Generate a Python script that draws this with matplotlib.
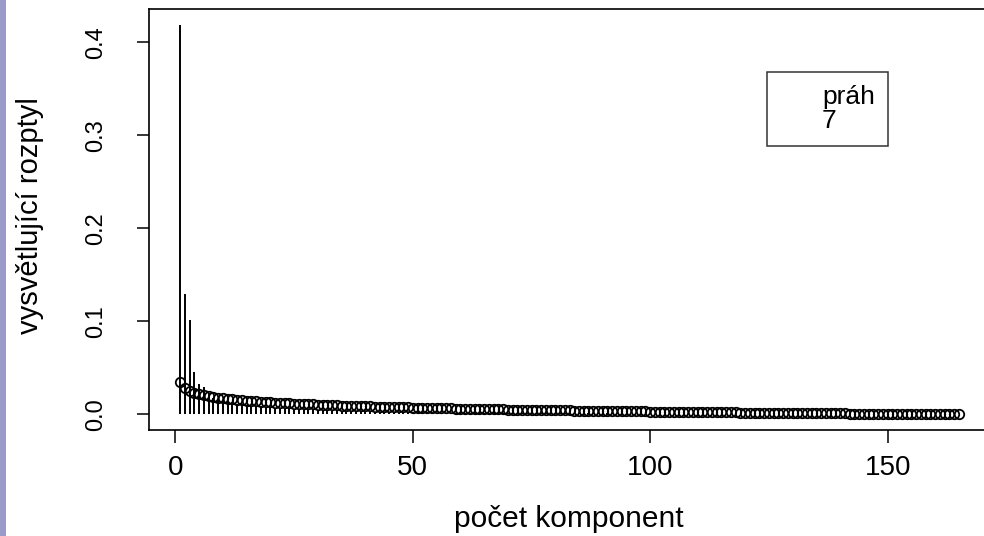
import numpy as np
import matplotlib
matplotlib.use("Agg")
import matplotlib.pyplot as plt
from matplotlib.lines import Line2D
from matplotlib.patches import Rectangle

plt.rcParams['font.family'] = ['Liberation Sans', 'DejaVu Sans']

# explained variance of each component (vertical lines)
variance = [
    0.419, 0.129, 0.101, 0.046, 0.033, 0.029, 0.023, 0.018, 0.016, 0.015,
    0.0135, 0.0125, 0.0115, 0.011, 0.010, 0.0095, 0.009, 0.0085, 0.008, 0.0075,
    0.007, 0.0065, 0.006, 0.0058, 0.0055, 0.0052, 0.005, 0.0048, 0.0046, 0.0044,
    0.0042, 0.004, 0.0038, 0.0036, 0.0035, 0.0034, 0.0033, 0.0032, 0.0031, 0.003,
    0.0029, 0.0028, 0.0028, 0.0027, 0.0026, 0.0026, 0.0025, 0.0024, 0.0024, 0.0023,
    0.0022, 0.0022, 0.0021, 0.0021, 0.0020, 0.0020, 0.0019, 0.0019, 0.0018, 0.0018,
    0.0017, 0.0017, 0.0017, 0.0016, 0.0016, 0.0016, 0.0015, 0.0015, 0.0015, 0.0014,
    0.0014, 0.0014, 0.0013, 0.0013, 0.0013, 0.0013, 0.0012, 0.0012, 0.0012, 0.0012,
    0.0011, 0.0011, 0.0011, 0.0011, 0.0011, 0.0010, 0.0010, 0.0010, 0.0010, 0.0010,
    0.0010, 0.0010, 0.0010, 0.0009, 0.0009, 0.0009, 0.0009, 0.0009, 0.0009, 0.0009,
    0.0009, 0.0009, 0.0008, 0.0008, 0.0008, 0.0008, 0.0008, 0.0008, 0.0008, 0.0008,
    0.0008, 0.0008, 0.0007, 0.0007, 0.0007, 0.0007, 0.0007, 0.0007, 0.0007, 0.0007,
    0.0007, 0.0007, 0.0006, 0.0006, 0.0006, 0.0006, 0.0006, 0.0006, 0.0006, 0.0006,
    0.0006, 0.0005, 0.0005, 0.0005, 0.0005, 0.0005, 0.0005, 0.0005, 0.0005, 0.0005,
    0.0005, 0.0005, 0.0005, 0.0004, 0.0004, 0.0004, 0.0004, 0.0004, 0.0004, 0.0004,
    0.0004, 0.0003, 0.0003, 0.0003, 0.0003, 0.0003, 0.0003, 0.0003, 0.0003, 0.0003,
    0.0002, 0.0002, 0.0001, 0.0001, 0.0001,
]

# threshold values (circles)
threshold = [
    0.03446, 0.02840, 0.02537, 0.02335, 0.02184, 0.02062, 0.01961, 0.01875, 0.01799, 0.01732,
    0.01671, 0.01616, 0.01566, 0.01519, 0.01476, 0.01435, 0.01397, 0.01362, 0.01328, 0.01296,
    0.01266, 0.01237, 0.01209, 0.01183, 0.01158, 0.01133, 0.01110, 0.01088, 0.01066, 0.01045,
    0.01025, 0.01005, 0.00987, 0.00968, 0.00950, 0.00933, 0.00916, 0.00900, 0.00884, 0.00868,
    0.00853, 0.00838, 0.00824, 0.00810, 0.00796, 0.00783, 0.00769, 0.00757, 0.00744, 0.00732,
    0.00719, 0.00708, 0.00696, 0.00684, 0.00673, 0.00662, 0.00651, 0.00641, 0.00630, 0.00620,
    0.00610, 0.00600, 0.00590, 0.00581, 0.00571, 0.00562, 0.00553, 0.00544, 0.00535, 0.00526,
    0.00517, 0.00509, 0.00500, 0.00492, 0.00484, 0.00476, 0.00468, 0.00460, 0.00452, 0.00444,
    0.00437, 0.00429, 0.00422, 0.00415, 0.00407, 0.00400, 0.00393, 0.00386, 0.00379, 0.00373,
    0.00366, 0.00359, 0.00353, 0.00346, 0.00340, 0.00333, 0.00327, 0.00321, 0.00315, 0.00308,
    0.00302, 0.00296, 0.00290, 0.00285, 0.00279, 0.00273, 0.00267, 0.00262, 0.00256, 0.00250,
    0.00245, 0.00239, 0.00234, 0.00229, 0.00223, 0.00218, 0.00213, 0.00208, 0.00203, 0.00197,
    0.00192, 0.00187, 0.00182, 0.00177, 0.00173, 0.00168, 0.00163, 0.00158, 0.00153, 0.00149,
    0.00144, 0.00139, 0.00135, 0.00130, 0.00126, 0.00121, 0.00117, 0.00112, 0.00108, 0.00104,
    0.00099, 0.00095, 0.00091, 0.00087, 0.00082, 0.00078, 0.00074, 0.00070, 0.00066, 0.00062,
    0.00058, 0.00054, 0.00050, 0.00046, 0.00042, 0.00038, 0.00034, 0.00030, 0.00026, 0.00022,
    0.00019, 0.00015, 0.00011, 0.00007, 0.00004,
]

legend_labels = ["práh", "7"]
x_ticks = [0, 50, 100, 150]
y_ticks = [0.0, 0.1, 0.2, 0.3, 0.4]

components = np.arange(1, len(variance) + 1)

fig = plt.figure(figsize=(9.84, 5.36), dpi=100)
# lavender strip on the left edge
fig.patches.append(Rectangle((0, 0), 6 / 984, 1, transform=fig.transFigure,
                             facecolor='#9b9bcb', edgecolor='none'))

ax = fig.add_axes([149 / 984, 106 / 536, 841 / 984, 421 / 536])
ax.vlines(components, 0, variance, color='black', lw=1.4)
ax.plot(components, threshold, linestyle='none', marker='o', markersize=6.8,
        markerfacecolor='none', markeredgecolor='black', markeredgewidth=1.3)

ax.set_xlim(-5.56, 171.56)
ax.set_ylim(-0.01676, 0.43576)
ax.set_xticks(x_ticks)
ax.set_xticklabels([str(t) for t in x_ticks])
ax.set_yticks(y_ticks)
ax.set_yticklabels([f"{t:.1f}" for t in y_ticks])

for s in ax.spines.values():
    s.set_linewidth(1.2)
ax.tick_params(axis='both', direction='out', length=9, width=1.1, colors='black')
ax.tick_params(axis='x', labelsize=20, pad=9)
ax.tick_params(axis='y', labelsize=17, pad=21, labelrotation=90)
for lab in ax.get_yticklabels():
    lab.set_verticalalignment('center')

ax.set_xlabel("počet komponent", fontsize=21.5, va='center')
ax.xaxis.set_label_coords((569 - 149) / 841, (430 - 519) / 421)
ax.set_ylabel("vysvětlující rozptyl", fontsize=21, va='center')
ax.yaxis.set_label_coords((30 - 149) / 841, (430 - 216) / 421)

handles = [Line2D([], [], linestyle='none') for _ in legend_labels]
leg = ax.legend(handles, legend_labels, loc='upper left',
                bbox_to_anchor=((767 - 149) / 841, (430 - 72) / 421),
                borderaxespad=0, fontsize=19, frameon=True, fancybox=False,
                borderpad=0.5, handlelength=1.23, handletextpad=0.35,
                labelspacing=0.0)
leg.get_frame().set_edgecolor('black')
leg.get_frame().set_linewidth(1.1)

fig.savefig("out.png", dpi=100)
